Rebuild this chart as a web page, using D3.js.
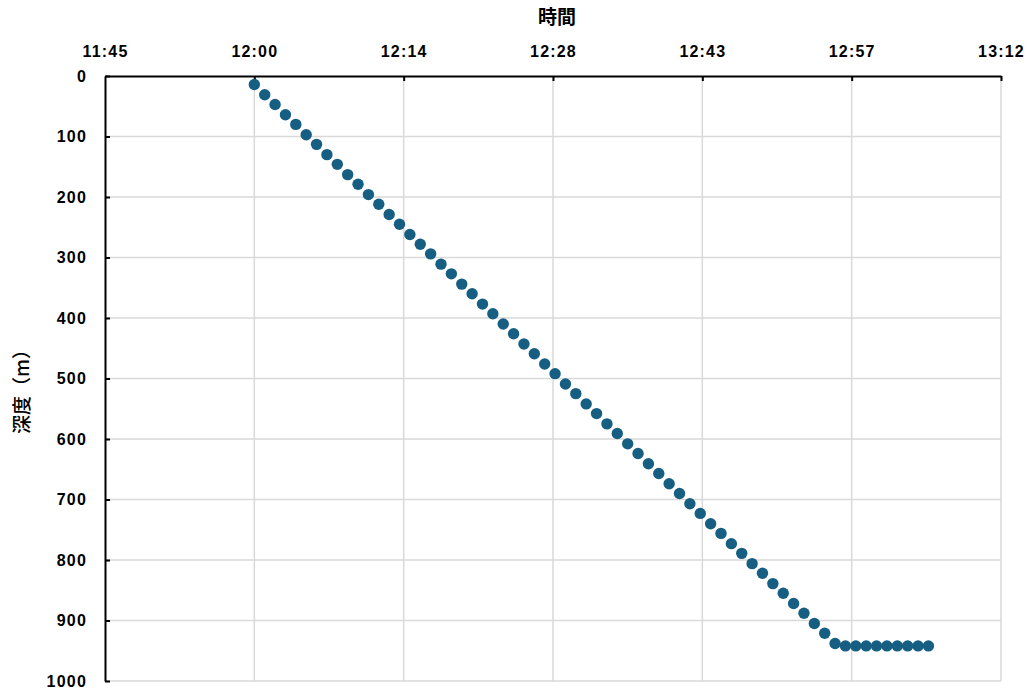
<!DOCTYPE html>
<html><head><meta charset="utf-8">
<script src="https://cdn.jsdelivr.net/npm/d3@7"></script>
<style>
html,body{margin:0;padding:0;background:#fff;}
svg{display:block;}
.tick text{font-family:"Liberation Sans",Arial,sans-serif;font-weight:bold;font-size:16px;letter-spacing:1.2px;fill:#000;}
</style>
</head><body>
<svg id="chart" width="1033" height="693"></svg>
<script>
// ---- data ----
const times = ["12:00","12:01","12:02","12:03","12:04","12:05","12:06","12:07","12:08","12:09",
"12:10","12:11","12:12","12:13","12:14","12:15","12:16","12:17","12:18","12:19",
"12:20","12:21","12:22","12:23","12:24","12:25","12:26","12:27","12:28","12:29",
"12:30","12:31","12:32","12:33","12:34","12:35","12:36","12:37","12:38","12:39",
"12:40","12:41","12:42","12:43","12:44","12:45","12:46","12:47","12:48","12:49",
"12:50","12:51","12:52","12:53","12:54","12:55","12:56","12:57","12:58","12:59",
"13:00","13:01","13:02","13:03","13:04","13:05"];
const depths = [14,31,47,64,80,97,113,130,146,163,
179,196,212,229,245,262,278,294,311,327,
344,360,377,393,410,426,443,459,476,492,
509,525,542,558,575,591,608,624,641,657,
674,690,707,723,740,756,773,789,806,822,
839,855,872,888,905,921,938,942,942,942,
942,942,942,942,942,942];
// x ticks in fraction of a day (Excel date axis) and their labels
const xTickDays = [0.49,0.50,0.51,0.52,0.53,0.54,0.55];
const xTickLabels = ["11:45","12:00","12:14","12:28","12:43","12:57","13:12"];
const yTicks = [0,100,200,300,400,500,600,700,800,900,1000];
const xTitle = "時間";
const yTitle = "深度（m）";

// ---- layout ----
const W = 1033, H = 693;
const m = {left:105, right:32, top:76, bottom:12};
const svg = d3.select("#chart");
const toDay = s => { const [h,mm] = s.split(":").map(Number); return (h*60+mm)/1440; };

const x = d3.scaleLinear().domain([0.49,0.55]).range([m.left, W-m.right]);
const y = d3.scaleLinear().domain([0,1000]).range([m.top, H-m.bottom]);

// gridlines
const grid = svg.append("g").attr("stroke","#d9d9d9").attr("stroke-width",1.5);
grid.selectAll("line.v").data(xTickDays.slice(1)).join("line")
  .attr("x1",d=>x(d)).attr("x2",d=>x(d)).attr("y1",y(0)).attr("y2",y(1000));
grid.selectAll("line.h").data(yTicks.slice(1)).join("line")
  .attr("x1",x(0.49)).attr("x2",x(0.55)).attr("y1",d=>y(d)).attr("y2",d=>y(d));

// axes
const xAxis = d3.axisTop(x).tickValues(xTickDays)
  .tickFormat((d,i)=>xTickLabels[i]).tickSizeInner(-5).tickSizeOuter(0).tickPadding(19);
const gx = svg.append("g").attr("transform",`translate(0,${m.top})`).call(xAxis);
gx.select(".domain").attr("stroke","#000").attr("stroke-width",2);
gx.selectAll(".tick line").attr("stroke","#000").attr("stroke-width",2);
gx.selectAll(".tick").filter((d,i)=>i===0).select("line").remove();

const yAxis = d3.axisLeft(y).tickValues(yTicks).tickFormat(d3.format("d"))
  .tickSizeInner(-5).tickSizeOuter(0).tickPadding(18);
const gy = svg.append("g").attr("transform",`translate(${m.left},0)`).call(yAxis);
gy.select(".domain").attr("stroke","#000").attr("stroke-width",2);
gy.selectAll(".tick line").attr("stroke","#000").attr("stroke-width",2);

// points
svg.append("g").selectAll("circle").data(times.map((t,i)=>({t:toDay(t), d:depths[i]})))
  .join("circle")
  .attr("cx",d=>x(d.t)).attr("cy",d=>y(d.d)).attr("r",5.7)
  .attr("fill","#175f82");

// titles
svg.append("text").attr("x",(m.left+W-m.right)/2+4).attr("y",24)
  .attr("text-anchor","middle")
  .style("font-family","'Noto Sans CJK JP','Noto Sans CJK SC',sans-serif")
  .style("font-weight","bold").style("font-size","19px").text(xTitle);
svg.append("text").attr("transform",`translate(29,${387}) rotate(-90)`)
  .attr("text-anchor","middle")
  .style("font-family","'Noto Sans CJK JP','Noto Sans CJK SC',sans-serif")
  .style("font-weight","500").style("font-size","19px").text(yTitle);
</script>
</body></html>
